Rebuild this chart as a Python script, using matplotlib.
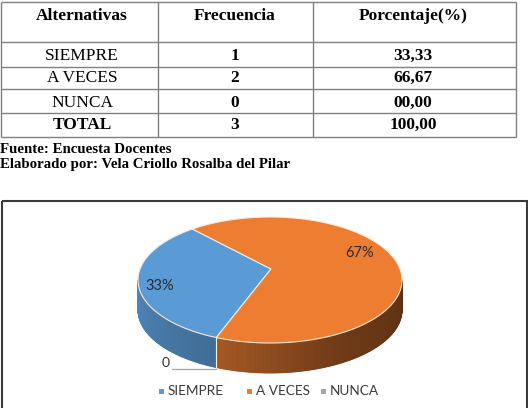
import numpy as np
import matplotlib
matplotlib.use("Agg")
import matplotlib.pyplot as plt
from matplotlib.patches import Polygon, Rectangle

# ---------------- data ----------------
table_header = ["Alternativas", "Frecuencia", "Porcentaje(%)"]
alternativas = ["SIEMPRE", "A VECES", "NUNCA", "TOTAL"]
frecuencia = ["1", "2", "0", "3"]
porcentaje = ["33,33", "66,67", "00,00", "100,00"]
fuente = "Fuente: Encuesta Docentes"
elaborado = "Elaborado por: Vela Criollo Rosalba del Pilar"

categories = ["SIEMPRE", "A VECES", "NUNCA"]
values = [1, 2, 0]
colors = ["#5B9BD5", "#ED7D31", "#A5A5A5"]

# ---------------- figure ----------------
W, H = 528, 408
fig = plt.figure(figsize=(W / 100, H / 100), dpi=100)
ax = fig.add_axes([0, 0, 1, 1])
ax.set_xlim(0, W)
ax.set_ylim(H, 0)
ax.axis("off")

serif = "Liberation Serif"
sans = "Lato"

# ---------------- table ----------------
line_c = "#808080"
col_x = [1, 158, 313, 516]
row_y = [2, 42, 66.5, 88.5, 112.5, 137]
for x in col_x:
    ax.plot([x, x], [row_y[0], row_y[-1]], color=line_c, lw=1.0, solid_capstyle="butt")
for y in row_y:
    ax.plot([col_x[0], col_x[-1]], [y, y], color=line_c, lw=1.0, solid_capstyle="butt")

col_cx = [82, 235, 413]
for i, h in enumerate(table_header):
    ax.text(col_cx[i], 19.5, h, ha="center", va="baseline", fontsize=12.5,
            fontweight="bold", family=serif, color="black")
base_y = [60, 81.5, 107, 129]
for r in range(4):
    bold_first = alternativas[r] == "TOTAL"
    ax.text(col_cx[0], base_y[r], alternativas[r], ha="center", va="baseline",
            fontsize=12.5, fontweight="bold" if bold_first else "normal",
            family=serif, color="black")
    ax.text(col_cx[1], base_y[r], frecuencia[r], ha="center", va="baseline",
            fontsize=12.5, fontweight="bold", family=serif, color="black")
    ax.text(col_cx[2], base_y[r], porcentaje[r], ha="center", va="baseline",
            fontsize=12.5, fontweight="bold", family=serif, color="black")

ax.text(0, 153, fuente, ha="left", va="baseline", fontsize=10.7,
        fontweight="bold", family=serif, color="black")
ax.text(0, 168, elaborado, ha="left", va="baseline", fontsize=10.7,
        fontweight="bold", family=serif, color="black")

# ---------------- chart box ----------------
ax.add_patch(Rectangle((1.5, 201), 525.5, 230, fill=False, ec="#3a3a3a", lw=1.5, zorder=0))

# ---------------- 3D pie ----------------
cx, cy = 270.0, 280.0
rx, ry = 132.0, 63.0
depth = 30.0
apex = (271.0, 269.0)
start = 246.0

total = float(sum(values))
fracs = [v / total for v in values]
cum = np.concatenate([[0], np.cumsum(fracs)])
angles = [(start - cum[i] * 360, start - cum[i + 1] * 360) for i in range(len(values))]


def pt(theta_deg, dz=0.0):
    t = np.deg2rad(theta_deg)
    return cx + rx * np.cos(t), cy - ry * np.sin(t) + dz


shade_a = [180, 246, 300, 360]
shade_f = [0.87, 0.70, 0.47, 0.39]


def shade(hexc, theta):
    th = theta % 360
    f = np.interp(th, shade_a, shade_f)
    c = np.array(matplotlib.colors.to_rgb(hexc)) * f
    return np.clip(c, 0, 1)


# sides
for i, (a0, a1) in enumerate(angles):
    if a0 == a1:
        continue
    n = int(abs(a0 - a1) * 2) + 2
    ts = np.linspace(a1, a0, n)
    for k in range(n - 1):
        tm = 0.5 * (ts[k] + ts[k + 1])
        if np.sin(np.deg2rad(tm)) >= 0:
            continue
        p1 = pt(ts[k]); p2 = pt(ts[k + 1])
        p3 = pt(ts[k + 1], depth); p4 = pt(ts[k], depth)
        c = shade(colors[i], tm)
        ax.add_patch(Polygon([p1, p2, p3, p4], closed=True, fc=c, ec=c, lw=0.6, zorder=1))

# boundary vertical edges on the front side
for i, (a0, a1) in enumerate(angles):
    if np.sin(np.deg2rad(a0)) < 0 and values[i] > 0:
        x0, y0 = pt(a0)
        x1, y1 = pt(a0, depth)
        ax.plot([x0, x1], [y0, y1], color="#f2f2f2", lw=0.8, zorder=2)

# tops
for i, (a0, a1) in enumerate(angles):
    if a0 == a1:
        continue
    ts = np.linspace(a0, a1, 200)
    pts = [apex] + [pt(t) for t in ts]
    ax.add_patch(Polygon(pts, closed=True, fc=colors[i], ec="#fbe9dc", lw=0.8, zorder=3))

# data labels
label_pos = [(186, 0.84), (32, 0.80)]  # (angle, radius fraction) layout
for i, v in enumerate(values):
    if v == 0:
        a = angles[i][0]
        bx, by = pt(a, depth)
        ax.plot([bx, bx - 44], [by + 1, by + 1], color="#a6a6a6", lw=0.9, zorder=4)
        ax.text(bx - 47, by - 0.5, f"{v}", ha="right", va="baseline", fontsize=10,
                family=sans, color="#333333", zorder=5)
    else:
        ang, rf = label_pos[i]
        t = np.deg2rad(ang)
        lx = cx + rf * rx * np.cos(t)
        ly = cy - rf * ry * np.sin(t)
        pct = f"{round(fracs[i] * 100):.0f}%"
        ax.text(lx, ly, pct, ha="center", va="center", fontsize=10.5,
                family=sans, color="#2b2b2b", zorder=5)

# legend
leg_x = [161, 249, 323]
leg_y = 391
for i, cat in enumerate(categories):
    ax.add_patch(Rectangle((leg_x[i] - 2.5, leg_y - 2.5), 5, 5, fc=colors[i], ec="none", zorder=5))
    ax.text(leg_x[i] + 7, leg_y, cat, ha="left", va="center", fontsize=9.8,
            family=sans, color="#3a3a3a", zorder=5)

fig.savefig("out.png", dpi=100)
